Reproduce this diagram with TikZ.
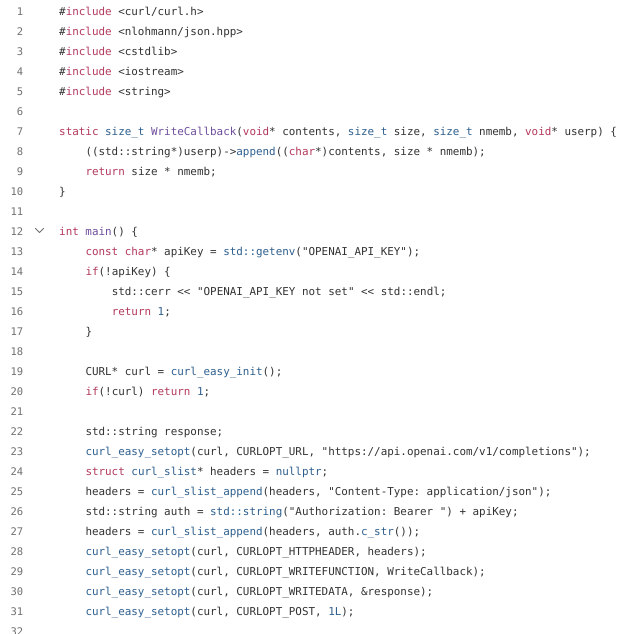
\documentclass[tikz,border=0pt]{standalone}
\usepackage{fontspec}
\setmonofont{DejaVu Sans Mono}
\definecolor{txt}{HTML}{333333}
\definecolor{lnum}{HTML}{707070}
\definecolor{kwc}{HTML}{B3395C}
\definecolor{blc}{HTML}{2E5F8E}
\definecolor{puc}{HTML}{6F4E9E}
\newcommand{\ckw}[1]{\textcolor{kwc}{#1}}
\newcommand{\cbl}[1]{\textcolor{blc}{#1}}
\newcommand{\cpu}[1]{\textcolor{puc}{#1}}
\tikzset{
  codeline/.style={anchor=base west, inner sep=0pt, font=\ttfamily\fontsize{10.9}{13}\selectfont, text=txt},
  numline/.style={anchor=base east, inner sep=0pt, font=\ttfamily\fontsize{10.5}{13}\selectfont, text=lnum},
  fold/.style={draw=lnum, line width=0.8pt, line cap=round, line join=round}
}
\begin{document}
\begin{tikzpicture}[x=1pt,y=-1pt]
\fill[white] (0,0) rectangle (642,633);
\useasboundingbox (0,0) rectangle (642,633);
\begin{scope}
\clip (0,0) rectangle (642,633);
% line numbers
\foreach \n in {1,...,32} {
  \node[numline] (n\n) at (23.5,{20*(\n-1)+15}) {\n};
}
% fold chevron
\coordinate (fa) at (35.5,228.5);
\coordinate (fb) at (39.5,232.5);
\coordinate (fc) at (43.5,228.5);
\draw[fold] (fa) -- (fb) -- (fc);
% code
\def\xa{59}\def\xb{85.3}\def\xc{111.6}
\node[codeline] (c1) at (\xa,15) {\#\ckw{include} <curl/curl.h>};
\node[codeline] (c2) at (\xa,35) {\#\ckw{include} <nlohmann/json.hpp>};
\node[codeline] (c3) at (\xa,55) {\#\ckw{include} <cstdlib>};
\node[codeline] (c4) at (\xa,75) {\#\ckw{include} <iostream>};
\node[codeline] (c5) at (\xa,95) {\#\ckw{include} <string>};
\node[codeline] (c7) at (\xa,135) {\ckw{static} \cbl{size\_t} \cpu{WriteCallback}(\ckw{void}* contents, \cbl{size\_t} size, \cbl{size\_t} nmemb, \ckw{void}* userp) \{};
\node[codeline] (c8) at (\xb,155) {((std::string*)userp)->\cbl{append}((\ckw{char}*)contents, size * nmemb);};
\node[codeline] (c9) at (\xb,175) {\ckw{return} size * nmemb;};
\node[codeline] (c10) at (\xa,195) {\}};
\node[codeline] (c12) at (\xa,235) {\ckw{int} \cpu{main}() \{};
\node[codeline] (c13) at (\xb,255) {\ckw{const} \ckw{char}* apiKey = \cbl{std::getenv}("OPENAI\_API\_KEY");};
\node[codeline] (c14) at (\xb,275) {\ckw{if}(!apiKey) \{};
\node[codeline] (c15) at (\xc,295) {std::cerr << "OPENAI\_API\_KEY not set" << std::endl;};
\node[codeline] (c16) at (\xc,315) {\ckw{return} \cbl{1};};
\node[codeline] (c17) at (\xb,335) {\}};
\node[codeline] (c19) at (\xb,375) {CURL* curl = \cbl{curl\_easy\_init}();};
\node[codeline] (c20) at (\xb,395) {\ckw{if}(!curl) \ckw{return} \cbl{1};};
\node[codeline] (c22) at (\xb,435) {std::string response;};
\node[codeline] (c23) at (\xb,455) {\cbl{curl\_easy\_setopt}(curl, CURLOPT\_URL, "https://api.openai.com/v1/completions");};
\node[codeline] (c24) at (\xb,475) {\ckw{struct} \cbl{curl\_slist}* headers = \cbl{nullptr};};
\node[codeline] (c25) at (\xb,495) {headers = \cbl{curl\_slist\_append}(headers, "Content-Type: application/json");};
\node[codeline] (c26) at (\xb,515) {std::string auth = \cbl{std::string}("Authorization: Bearer ") + apiKey;};
\node[codeline] (c27) at (\xb,535) {headers = \cbl{curl\_slist\_append}(headers, auth.\cbl{c\_str}());};
\node[codeline] (c28) at (\xb,555) {\cbl{curl\_easy\_setopt}(curl, CURLOPT\_HTTPHEADER, headers);};
\node[codeline] (c29) at (\xb,575) {\cbl{curl\_easy\_setopt}(curl, CURLOPT\_WRITEFUNCTION, WriteCallback);};
\node[codeline] (c30) at (\xb,595) {\cbl{curl\_easy\_setopt}(curl, CURLOPT\_WRITEDATA, \&response);};
\node[codeline] (c31) at (\xb,615) {\cbl{curl\_easy\_setopt}(curl, CURLOPT\_POST, \cbl{1L});};
\end{scope}
\end{tikzpicture}
\end{document}
